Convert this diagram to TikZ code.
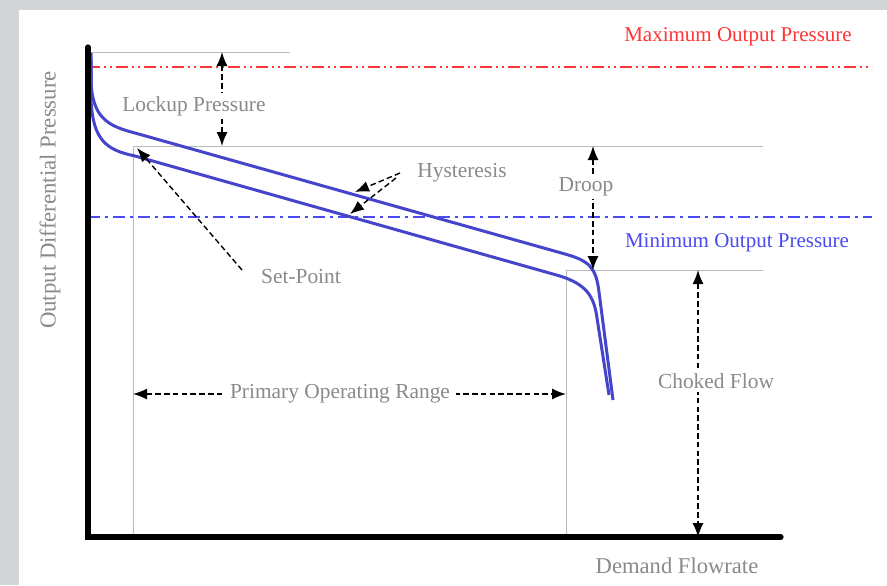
\documentclass[tikz,border=0pt]{standalone}
\usepackage{fontspec}
\setmainfont{Liberation Serif}
\usepackage{tikz}
\usetikzlibrary{arrows.meta}
\usetikzlibrary{positioning}

\definecolor{bggray}{HTML}{D3D6D6}
\definecolor{lblgray}{HTML}{8A8A8A}
\definecolor{curveblue}{HTML}{4545CC}
\definecolor{maxred}{HTML}{FF3535}
\definecolor{minblue}{HTML}{4A4AF2}

\tikzset{
	lbl/.style={text=lblgray, font=\fontsize{10.7}{12}\selectfont, inner sep=1.5pt},
	fillbl/.style={lbl, fill=white},
	guide/.style={draw=gray!55, line width=0.5pt},
	axisline/.style={line width=2.6pt, line cap=round},
	curve/.style={draw=curveblue, line width=1.5pt, line join=round},
	dimarr/.style={{Latex[length=7pt,width=5.5pt]}-{Latex[length=7pt,width=5.5pt]}, dash pattern=on 2.8pt off 1.6pt, line width=0.7pt},
	ptrarr/.style={-{Latex[length=7pt,width=5.5pt]}, dash pattern=on 2.8pt off 1.6pt, line width=0.7pt},
}

\begin{document}
\begin{tikzpicture}[x=0.5pt,y=-0.5pt]

	\fill[bggray] (0,0) rectangle (887,585);
	\fill[white] (19,10) rectangle (887,585);

	% levels and ranges
	\coordinate (org) at (88,537);
	\coordinate (ytop) at (88,47);
	\coordinate (xend) at (781,537);
	\coordinate (lk-l) at (88,52);
	\coordinate (lk-r) at (290,52);
	\coordinate (sp) at (133,146);
	\coordinate (sp-r) at (763,146);
	\coordinate (sp-b) at (133,537);
	\coordinate (ch) at (566,270);
	\coordinate (ch-r) at (763,270);
	\coordinate (ch-b) at (566,537);
	\coordinate (mx-l) at (88,67);
	\coordinate (mx-r) at (872,67);
	\coordinate (mn-l) at (88,217);
	\coordinate (mn-r) at (872,217);

	\draw[guide] (lk-l) -- (lk-r);
	\draw[guide] (sp) -- (sp-r);
	\draw[guide] (sp) -- (sp-b);
	\draw[guide] (ch) -- (ch-r);
	\draw[guide] (ch) -- (ch-b);

	\draw[maxred, line width=0.8pt, dash pattern=on 6pt off 2pt on 1pt off 2pt on 1pt off 2pt] (mx-l) -- (mx-r);
	\draw[minblue, line width=0.8pt, dash pattern=on 6pt off 2.5pt on 1.5pt off 2.5pt] (mn-l) -- (mn-r);

	\node[text=maxred, font=\fontsize{10.5}{12}\selectfont] (maxp) at (738,37) {Maximum Output Pressure};
	\node[text=minblue, font=\fontsize{10.5}{12}\selectfont] (minp) at (737,243) {Minimum Output Pressure};

	% regulator curves
	\draw[curve] (91,53) -- (91,80) .. controls (92,118) and (108,126) .. (135,133)
		-- (565,254) .. controls (590,261) and (596,268) .. (599,292) -- (613,400);
	\draw[curve] (91,60) -- (91,100) .. controls (93,140) and (106,150) .. (135,156)
		-- (560,276) .. controls (585,284) and (594,295) .. (597,318) -- (609,395);

	\draw[axisline] (ytop) -- (org) -- (xend);

	% dimensions
	\coordinate (lka) at (222,52);
	\coordinate (lkb) at (222,146);
	\draw[dimarr] (lka) -- (lkb);
	\node[fillbl] (lockup) at (194,106) {Lockup Pressure};

	\coordinate (dra) at (593,146);
	\coordinate (drb) at (593,270);
	\draw[dimarr] (dra) -- (drb);
	\node[fillbl] (droop) at (586,187) {Droop};

	\coordinate (cha) at (698,270);
	\coordinate (chb) at (698,537);
	\draw[dimarr] (cha) -- (chb);
	\node[fillbl] (choked) at (716,381) {Choked Flow};

	\coordinate (pra) at (133,394);
	\coordinate (prb) at (566,394);
	\draw[dimarr] (pra) -- (prb);
	\node[fillbl, inner sep=3pt] (primary) at (340,394) {Primary Operating Range};

	\node[lbl] (setpt) at (301,277) {Set-Point};
	\coordinate (spt) at (242,270);
	\coordinate (spa) at (137,148);
	\draw[ptrarr] (spt) -- (spa);

	\node[lbl] (hyst) at (462,173) {Hysteresis};
	\coordinate (hy1) at (400,173);
	\coordinate (hy2) at (396,178);
	\coordinate (hyu) at (355,192);
	\coordinate (hyl) at (350,214);
	\draw[ptrarr] (hy1) -- (hyu);
	\draw[ptrarr] (hy2) -- (hyl);

	% axis titles
	\node[lbl, rotate=90, font=\fontsize{11.4}{12}\selectfont] (ylab) at (50,200) {Output Differential Pressure};
	\node[lbl, font=\fontsize{11.3}{12}\selectfont] (xlab) at (677,566) {Demand Flowrate};

\end{tikzpicture}
\end{document}
